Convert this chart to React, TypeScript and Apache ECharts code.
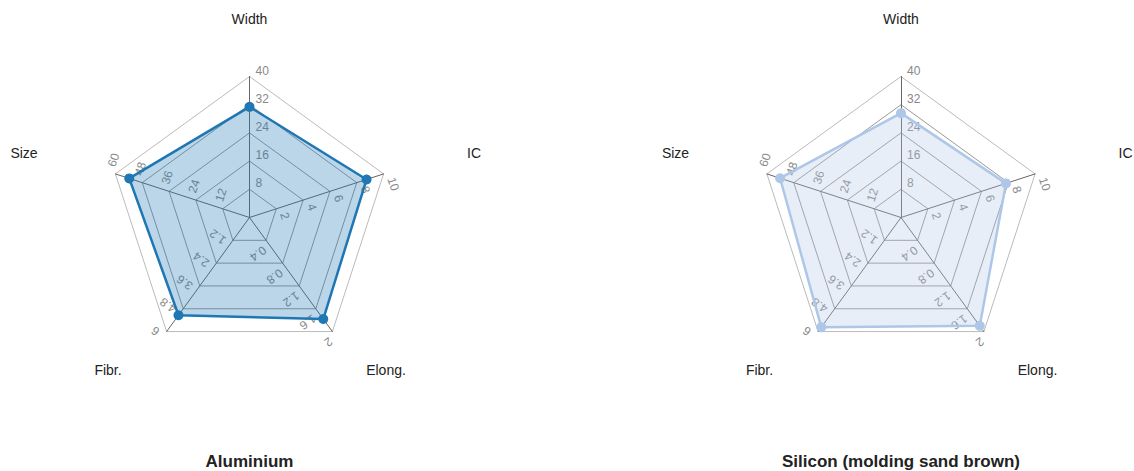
import React, { useEffect, useRef } from "react";
import * as echarts from "echarts";

// Indicators listed counter-clockwise from the top (ECharts radar order)
const indicators = ["Width", "Size", "Fibr.", "Elong.", "IC"];
const indicatorMax = [40, 60, 6, 2, 10];
const materials = ["Aluminium", "Silicon (molding sand brown)"];
const aluminiumValues = [31.4, 53.8, 5.14, 1.78, 8.73];
const siliconValues = [29.6, 54.1, 5.77, 1.9, 7.83];
const seriesValues = [aluminiumValues, siliconValues];
const seriesColors = ["#1f77b4", "#aec7e8"];

const FONT = "'Liberation Sans', Arial, sans-serif";
const CENTERS: [number, number][] = [
  [249.5, 217.5],
  [901, 217.5],
];
const RADIUS = 141;
// label offsets from each radar centre, same order as indicators
const NAME_OFFSETS: [number, number][] = [
  [0, -198.5],
  [-225.5, -64.5],
  [-141.5, 152.5],
  [136.5, 152.5],
  [224.5, -64.5],
];
// tick-label rotation for each axis (axis angle - 90deg)
const LABEL_ROTATE = [0, 72, 144, -144, -72];

export default function App() {
  const ref = useRef<HTMLDivElement>(null);

  useEffect(() => {
    document.body.style.margin = "0";
    if (!ref.current) return;
    const chart = echarts.init(ref.current, undefined, { renderer: "svg" });

    const graphics: any[] = [];
    CENTERS.forEach((c) => {
      indicators.forEach((name, i) => {
        graphics.push({
          type: "text",
          x: c[0] + NAME_OFFSETS[i][0],
          y: c[1] + NAME_OFFSETS[i][1],
          silent: true,
          style: {
            text: name,
            fill: "#222",
            font: `14px ${FONT}`,
            textAlign: "center",
            textVerticalAlign: "middle",
          },
        });
      });
    });

    const radars: any[] = [];
    CENTERS.forEach((c) => {
      // main radar: axes and split lines
      radars.push({
        center: c,
        radius: RADIUS,
        startAngle: 90,
        splitNumber: 5,
        shape: "polygon",
        indicator: indicators.map((n, i) => ({ name: n, min: 0, max: indicatorMax[i] })),
        axisName: { show: false },
        axisLine: { lineStyle: { color: "#666", width: 1 } },
        splitLine: {
          lineStyle: { color: ["#999", "#999", "#999", "#999", "#999", "#bbb"], width: 1 },
        },
        splitArea: { show: false },
        axisTick: { show: false },
        axisLabel: { show: false },
      });
      // one label-only radar per axis, so each axis gets its own label rotation
      indicators.forEach((_, k) => {
        radars.push({
          center: c,
          radius: RADIUS,
          startAngle: 90,
          splitNumber: 5,
          shape: "polygon",
          silent: true,
          indicator: indicators.map((n, i) =>
            i === k
              ? { name: n, min: 0, max: indicatorMax[i] }
              : { name: n, min: -1, max: 0 }
          ),
          axisName: { show: false },
          axisLine: { show: false },
          splitLine: { show: false },
          splitArea: { show: false },
          axisTick: { show: false },
          axisLabel: {
            show: true,
            rotate: LABEL_ROTATE[k],
            margin: -6,
            align: "left",
            verticalAlign: "bottom",
            color: "#888",
            fontSize: 12,
            fontFamily: FONT,
            showMinLabel: false,
            formatter: (v: number) => (v > 0 ? String(+v.toFixed(3)) : ""),
          },
        });
      });
    });

    chart.setOption({
      animation: false,
      textStyle: { fontFamily: FONT },
      title: materials.map((t, i) => ({
        text: t,
        left: CENTERS[i][0],
        top: 453,
        padding: 0,
        textAlign: "center",
        textStyle: {
          fontSize: 17,
          fontWeight: "bold",
          color: "#222",
          fontFamily: FONT,
        },
      })),
      radar: radars,
      graphic: graphics,
      series: materials.map((m, i) => ({
        type: "radar",
        radarIndex: i * 6,
        symbol: "circle",
        symbolSize: 10,
        lineStyle: { color: seriesColors[i], width: 2.5 },
        itemStyle: { color: seriesColors[i] },
        areaStyle: { color: seriesColors[i], opacity: 0.3 },
        data: [{ name: m, value: seriesValues[i] }],
      })),
    });

    return () => chart.dispose();
  }, []);

  return <div ref={ref} style={{ width: 1134, height: 471 }} />;
}
